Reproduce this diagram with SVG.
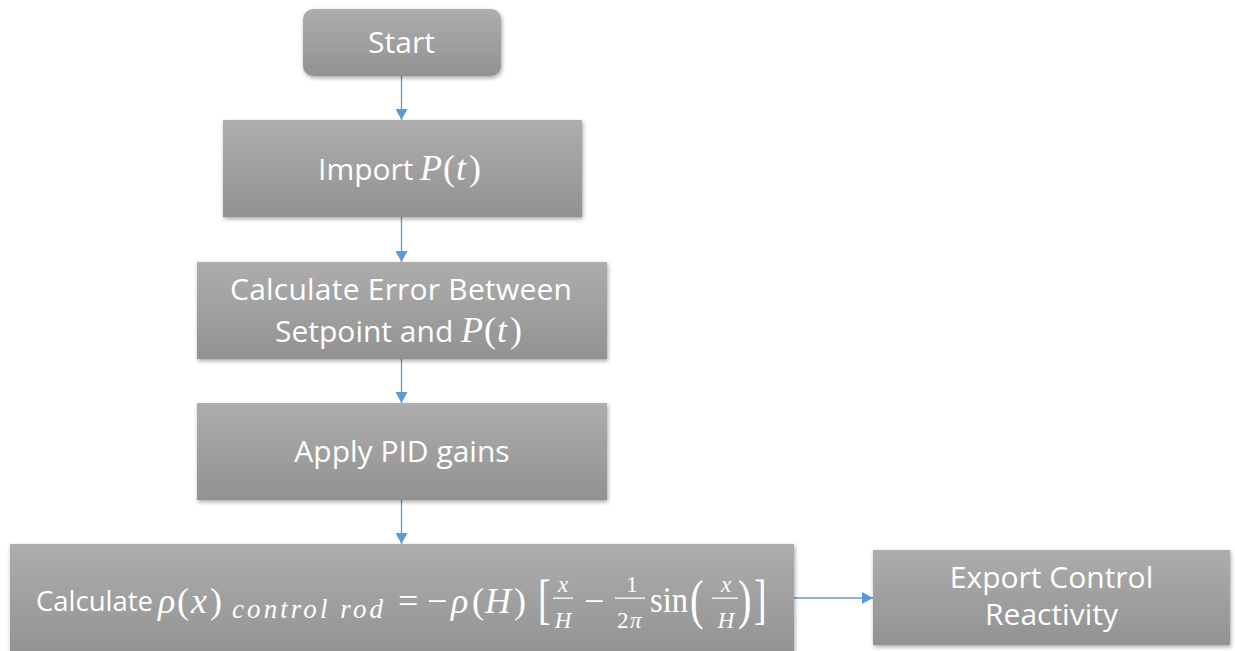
<svg xmlns="http://www.w3.org/2000/svg" width="1235" height="651" viewBox="0 0 1235 651">
<style>
.box{fill:url(#g);filter:url(#sh)}
.t{font-family:"Open Sans","Liberation Sans",sans-serif;fill:#fff;font-size:30px}
.m{font-family:"Liberation Serif","DejaVu Serif",serif;fill:#fff;font-size:36px}
.i{font-style:italic}
.f{font-size:23px}
.d{font-size:54px}
.bar{fill:#fff}
.c{stroke:#5B9BD5;stroke-width:1.3;fill:none;marker-end:url(#ah)}
</style>
<defs>
<linearGradient id="g" x1="0" y1="0" x2="0" y2="1">
<stop offset="0" stop-color="#adadad"/>
<stop offset="1" stop-color="#929292"/>
</linearGradient>
<filter id="sh" x="-5%" y="-10%" width="110%" height="130%">
<feDropShadow dx="1" dy="2" stdDeviation="2" flood-color="#000" flood-opacity="0.35"/>
</filter>
<marker id="ah" markerUnits="userSpaceOnUse" markerWidth="12" markerHeight="12" refX="11" refY="6" orient="auto">
<path d="M0,0 L11,6 L0,12 z" fill="#5B9BD5"/>
</marker>
</defs>
<rect width="1235" height="651" fill="#fff"/>
<g id="connectors">
<line class="c" x1="401.5" y1="76" x2="401.5" y2="120"/>
<line class="c" x1="401.5" y1="217" x2="401.5" y2="262"/>
<line class="c" x1="401.5" y1="359" x2="401.5" y2="403"/>
<line class="c" x1="401.5" y1="500" x2="401.5" y2="544"/>
<line class="c" x1="794" y1="598" x2="873" y2="598"/>
</g>
<g id="start">
<rect class="box" x="303" y="9" width="198" height="67" rx="10"/>
<text class="t" x="401.5" y="53" text-anchor="middle">Start</text>
</g>
<g id="import">
<rect class="box" x="223" y="120" width="359" height="97"/>
<text class="t" x="318" y="180">Import</text>
<text class="m" y="180"><tspan class="i" x="420">P</tspan><tspan x="443">(</tspan><tspan class="i" x="456">t</tspan><tspan x="469">)</tspan></text>
</g>
<g id="error">
<rect class="box" x="197" y="262" width="410" height="97"/>
<text class="t" x="230" y="300" textLength="342" lengthAdjust="spacing">Calculate Error Between</text>
<text class="t" x="275" y="342">Setpoint and</text>
<text class="m" y="342"><tspan class="i" x="461">P</tspan><tspan x="484">(</tspan><tspan class="i" x="497">t</tspan><tspan x="510">)</tspan></text>
</g>
<g id="pid">
<rect class="box" x="197" y="403" width="410" height="97"/>
<text class="t" x="402" y="462" text-anchor="middle">Apply PID gains</text>
</g>
<g id="calc">
<rect class="box" x="10" y="544" width="784" height="115"/>
<text class="t" x="36" y="611" style="font-size:27.5px">Calculate</text>
<text class="m" y="613"><tspan class="i" x="158">ρ</tspan><tspan x="177">(</tspan><tspan class="i" x="191">x</tspan><tspan x="210">)</tspan></text>
<text class="m i" x="232" y="618" style="font-size:27px" textLength="151" lengthAdjust="spacing">control rod</text>
<text class="m" y="613"><tspan x="398">=</tspan><tspan x="427">−</tspan><tspan class="i" x="451">ρ</tspan><tspan x="472">(</tspan><tspan class="i" x="485">H</tspan><tspan x="514">)</tspan></text>
<text class="m d" transform="translate(538,618) scale(0.7,1)">[</text>
<text class="m f i" x="563" y="592" text-anchor="middle">x</text>
<rect class="bar" x="553" y="597.5" width="20" height="1.3"/>
<text class="m f i" x="563" y="628" text-anchor="middle">H</text>
<text class="m" x="584" y="613">−</text>
<text class="m f" x="632" y="592" text-anchor="middle">1</text>
<rect class="bar" x="615" y="597.5" width="30" height="1.3"/>
<text class="m f" y="628"><tspan x="617">2</tspan><tspan class="i" x="630">π</tspan></text>
<text class="m" x="650" y="612" textLength="38" lengthAdjust="spacingAndGlyphs">sin</text>
<text class="m d" transform="translate(690,618) scale(0.75,1)">(</text>
<text class="m f i" x="726" y="592" text-anchor="middle">x</text>
<rect class="bar" x="712" y="597.5" width="26" height="1.3"/>
<text class="m f i" x="726" y="628" text-anchor="middle">H</text>
<text class="m d" transform="translate(738,618) scale(0.75,1)">)</text>
<text class="m d" transform="translate(754,618) scale(0.7,1)">]</text>
</g>
<g id="export">
<rect class="box" x="873" y="550" width="357" height="95"/>
<text class="t" x="1051.5" y="588" text-anchor="middle">Export Control</text>
<text class="t" x="1051.5" y="625" text-anchor="middle">Reactivity</text>
</g>
</svg>
